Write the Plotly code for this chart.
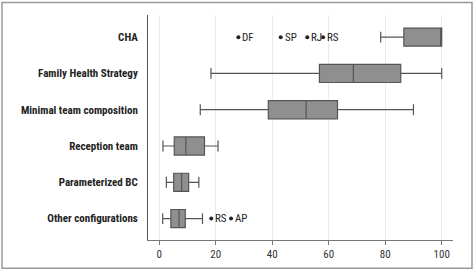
import plotly.graph_objects as go

categories = ["Other configurations", "Parameterized BC", "Reception team",
              "Minimal team composition", "Family Health Strategy", "CHA"]
lower = [1.2, 2.5, 1.3, 14.5, 18.3, 78.4]
q1 = [4.1, 5.1, 5.3, 38.6, 56.7, 86.6]
median = [7.0, 7.9, 9.4, 52.0, 68.7, 100.0]
q3 = [9.2, 10.4, 16.0, 63.1, 85.5, 100.0]
upper = [15.3, 14.0, 20.8, 90.0, 100.0, 100.0]

out_x = [28.0, 43.0, 52.4, 58.0, 18.4, 25.4]
out_y = ["CHA", "CHA", "CHA", "CHA", "Other configurations", "Other configurations"]
out_lbl = ["DF", "SP", "RJ", "RS", "RS", "AP"]

tick_vals = [0, 20, 40, 60, 80, 100]

FONT = "Roboto Condensed, Liberation Sans Narrow, Arial Narrow, Roboto, sans-serif"

fig = go.Figure()
fig.add_trace(go.Box(
    y=categories, q1=q1, median=median, q3=q3,
    lowerfence=lower, upperfence=upper,
    orientation="h", boxpoints=False, width=0.5,
    fillcolor="#8f8f8f", line=dict(color="#555555", width=1.2),
    whiskerwidth=0.6, showlegend=False, hoverinfo="skip"))
fig.add_trace(go.Scatter(
    x=out_x, y=out_y, mode="markers",
    marker=dict(color="#222222", size=4),
    showlegend=False, hoverinfo="skip", cliponaxis=False))

annotations = [dict(x=xv, y=yv, text=lb, showarrow=False, xanchor="left",
                    yanchor="middle", xshift=2,
                    font=dict(family=FONT, size=11, color="#222222"))
               for xv, yv, lb in zip(out_x, out_y, out_lbl)]

fig.update_layout(
    width=475, height=273,
    margin=dict(l=148, r=22, t=15, b=26),
    paper_bgcolor="white", plot_bgcolor="white",
    annotations=annotations,
    xaxis=dict(range=[-4, 104], tickvals=tick_vals,
               showgrid=True, gridcolor="#ebebeb", gridwidth=1,
               zeroline=False, showline=True, linecolor="#777777", linewidth=1,
               ticks="outside", ticklen=4, tickcolor="#777777",
               tickfont=dict(family=FONT, size=11, color="#333333")),
    yaxis=dict(type="category", categoryorder="array", categoryarray=categories,
               range=[-0.59, 5.61], showgrid=False, zeroline=False,
               showline=True, linecolor="#555555", linewidth=1,
               ticks="", ticklabelstandoff=7,
               tickfont=dict(family=FONT, size=11, color="#222222", weight="bold")),
    shapes=[dict(type="rect", xref="paper", yref="paper",
                 x0=(2 - 148) / 305, x1=(472 - 148) / 305,
                 y0=(247 - 276) / 232, y1=(247 - 2) / 232,
                 line=dict(color="#999999", width=1.5), layer="below")],
)

fig.write_html("out.html")
